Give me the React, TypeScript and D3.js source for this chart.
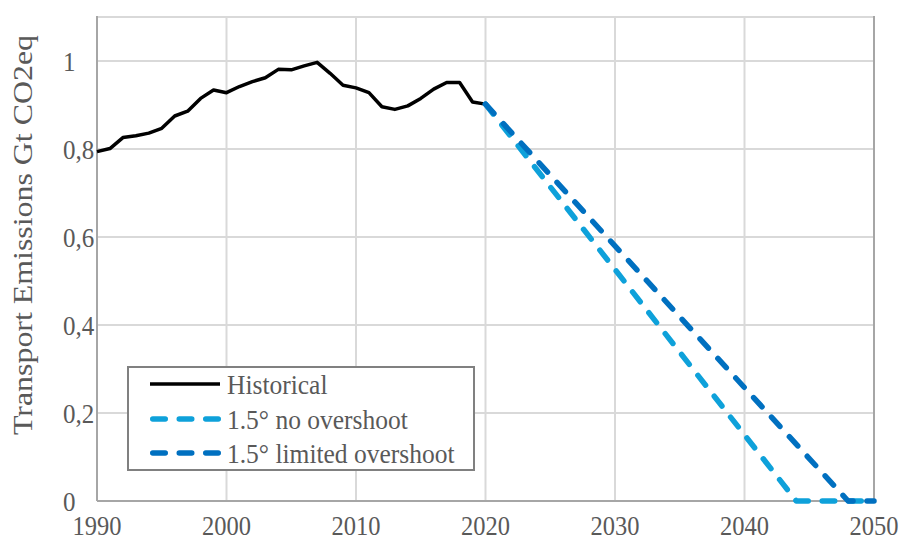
import React from "react";
import * as d3 from "d3";

const historicalYears = [1990, 1991, 1992, 1993, 1994, 1995, 1996, 1997, 1998, 1999, 2000, 2001, 2002, 2003, 2004, 2005, 2006, 2007, 2008, 2009, 2010, 2011, 2012, 2013, 2014, 2015, 2016, 2017, 2018, 2019, 2020];
const historicalValues = [0.794, 0.801, 0.826, 0.830, 0.836, 0.847, 0.875, 0.886, 0.915, 0.934, 0.928, 0.942, 0.953, 0.962, 0.981, 0.980, 0.989, 0.997, 0.972, 0.945, 0.939, 0.928, 0.896, 0.890, 0.898, 0.915, 0.936, 0.951, 0.951, 0.907, 0.902];

const noOvershootYears = [2020, 2044, 2050];
const noOvershootValues = [0.902, 0, 0];
const limitedOvershootYears = [2020, 2048, 2050];
const limitedOvershootValues = [0.902, 0, 0];

const xTicks = [1990, 2000, 2010, 2020, 2030, 2040, 2050];
const yTicks = [0, 0.2, 0.4, 0.6, 0.8, 1];
const yTickLabels = ["0", "0,2", "0,4", "0,6", "0,8", "1"];

const seriesNames = ["Historical", "1.5° no overshoot", "1.5° limited overshoot"];
const colors = ["#000000", "#0ea1da", "#0070c0"];

const W = 901;
const H = 542;
const left = 97;
const right = 874;
const top = 17;
const bottom = 501;

export default function App() {
  const x = d3.scaleLinear().domain([1990, 2050]).range([left, right]);
  const y = d3.scaleLinear().domain([0, 1.1]).range([bottom, top]);
  const line = d3
    .line<[number, number]>()
    .x((d) => x(d[0]))
    .y((d) => y(d[1]));

  const hist = line(historicalYears.map((yr, i) => [yr, historicalValues[i]] as [number, number]))!;
  const noOv = line(noOvershootYears.map((yr, i) => [yr, noOvershootValues[i]] as [number, number]))!;
  const lim = line(limitedOvershootYears.map((yr, i) => [yr, limitedOvershootValues[i]] as [number, number]))!;

  const font = "'Liberation Serif', 'Times New Roman', serif";
  const textColor = "#595959";
  const dash = "12.5 14";

  const legendX = 128;
  const legendY = 367;
  const legendW = 346;
  const legendH = 103;
  const rowYs = [384, 419, 453];

  return (
    <svg
      width={W}
      height={H}
      viewBox={`0 0 ${W} ${H}`}
      style={{ position: "absolute", left: 0, top: 0, display: "block", background: "#fff" }}
    >
      <rect x={0} y={0} width={W} height={H} fill="#fff" />
      {[...yTicks, 1.1].map((t) => (
        <line key={"hg" + t} x1={left} x2={right} y1={y(t)} y2={y(t)} stroke="#d9d9d9" strokeWidth={2} />
      ))}
      {xTicks.map((t) => (
        <line key={"vg" + t} x1={x(t)} x2={x(t)} y1={top} y2={bottom} stroke="#d9d9d9" strokeWidth={2} />
      ))}
      <line x1={left} x2={left} y1={top - 1} y2={bottom} stroke="#a6a6a6" strokeWidth={2} />
      <line x1={right} x2={right} y1={top - 1} y2={bottom} stroke="#a6a6a6" strokeWidth={2} />
      <line x1={left} x2={right + 1} y1={bottom} y2={bottom} stroke="#a6a6a6" strokeWidth={2} />

      {yTicks.map((t, i) => (
        <text
          key={"yl" + t}
          transform={`translate(63, ${y(t)}) scale(1, 1.1)`}
          dy="0.35em"
          fontFamily={font}
          fontSize={25}
          fill={textColor}
          textAnchor="start"
        >
          {yTickLabels[i]}
        </text>
      ))}
      {xTicks.map((t) => (
        <text
          key={"xl" + t}
          transform={`translate(${x(t)}, 535) scale(1, 1.1)`}
          fontFamily={font}
          fontSize={24.5}
          fill={textColor}
          textAnchor="middle"
        >
          {t}
        </text>
      ))}
      <text
        transform={`translate(32, 235) rotate(-90)`}
        fontFamily={font}
        fontSize={27.5}
        fill={textColor}
        textAnchor="middle"
        textLength={400}
        lengthAdjust="spacingAndGlyphs"
      >
        Transport Emissions Gt CO2eq
      </text>

      <path d={hist} fill="none" stroke={colors[0]} strokeWidth={3.5} strokeLinejoin="round" />
      <path
        d={noOv}
        fill="none"
        stroke={colors[1]}
        strokeWidth={5.5}
        strokeDasharray={dash}
        strokeLinecap="round"
        strokeLinejoin="round"
      />
      <path
        d={lim}
        fill="none"
        stroke={colors[2]}
        strokeWidth={5.5}
        strokeDasharray={dash}
        strokeLinecap="round"
        strokeLinejoin="round"
      />

      <rect x={legendX} y={legendY} width={legendW} height={legendH} fill="#fff" stroke="#808080" strokeWidth={2} />
      {seriesNames.map((name, i) => (
        <g key={name}>
          {i === 0 ? (
            <line x1={150} x2={220} y1={rowYs[i]} y2={rowYs[i]} stroke={colors[i]} strokeWidth={3.5} />
          ) : (
            <line
              x1={152.75}
              x2={218.25}
              y1={rowYs[i]}
              y2={rowYs[i]}
              stroke={colors[i]}
              strokeWidth={5.5}
              strokeDasharray={dash}
              strokeLinecap="round"
            />
          )}
          <text
            transform={`translate(227, ${rowYs[i]}) scale(1.02, 1.1)`}
            dy="0.35em"
            fontFamily={font}
            fontSize={25}
            fill={textColor}
          >
            {name}
          </text>
        </g>
      ))}
    </svg>
  );
}
